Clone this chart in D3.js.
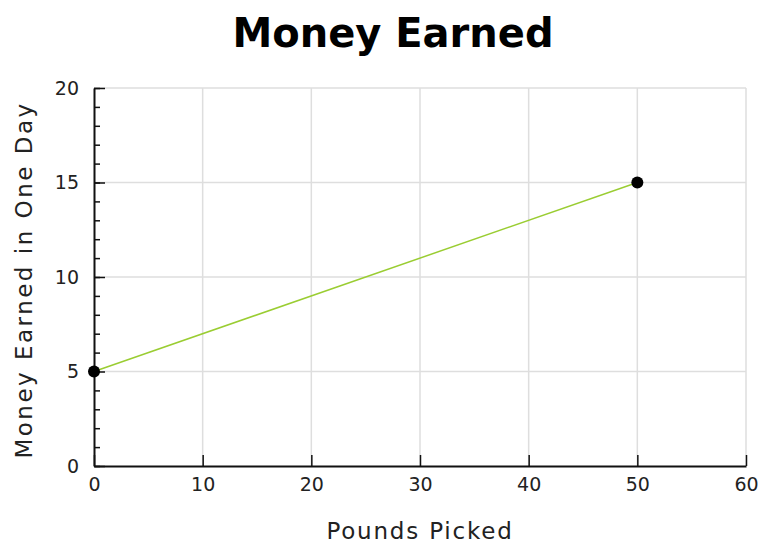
<!DOCTYPE html>
<html>
<head>
<meta charset="utf-8">
<script src="https://cdn.jsdelivr.net/npm/d3@7"></script>
<style>
  body { margin: 0; background: #fff; }
  text { font-family: "DejaVu Sans", Verdana, sans-serif; fill: #222; }
</style>
</head>
<body>
<svg id="chart" width="760" height="544"></svg>
<script>
// data
const poundsPicked = [0, 50];
const moneyEarned = [5, 15];
const xTicks = [0, 10, 20, 30, 40, 50, 60];
const yTicks = [0, 5, 10, 15, 20];
const yMinorTicks = d3.range(0, 21, 1);

const margin = { top: 88, right: 14, bottom: 78, left: 94 };
const width = 760 - margin.left - margin.right;
const height = 544 - margin.top - margin.bottom;

const svg = d3.select("#chart");
const g = svg.append("g")
  .attr("transform", "translate(" + margin.left + "," + margin.top + ")");

const x = d3.scaleLinear().domain([0, 60]).range([0, width]);
const y = d3.scaleLinear().domain([0, 20]).range([height, 0]);

// grid
g.append("g").selectAll("line")
  .data(xTicks.filter(d => d > 0))
  .enter().append("line")
  .attr("x1", d => x(d)).attr("x2", d => x(d))
  .attr("y1", 0).attr("y2", height)
  .attr("stroke", "#dedede").attr("stroke-width", 1.5);

g.append("g").selectAll("line")
  .data(yTicks.filter(d => d > 0))
  .enter().append("line")
  .attr("x1", 0).attr("x2", width)
  .attr("y1", d => y(d)).attr("y2", d => y(d))
  .attr("stroke", "#dedede").attr("stroke-width", 1.5);

// y axis: minor ticks, then major ticks with labels
const yMinor = g.append("g")
  .call(d3.axisRight(y).tickValues(yMinorTicks).tickSize(6).tickFormat(""));
yMinor.select(".domain").remove();
yMinor.selectAll("line").attr("stroke", "#111").attr("stroke-width", 1.5);

const yAxis = g.append("g")
  .call(d3.axisRight(y).tickValues(yTicks).tickSize(11).tickSizeOuter(0));
yAxis.select(".domain").attr("stroke", "#111").attr("stroke-width", 2);
yAxis.selectAll("line").attr("stroke", "#111").attr("stroke-width", 1.5);
yAxis.selectAll("text")
  .attr("x", -15)
  .attr("text-anchor", "end")
  .style("font-size", "19px")
  .style("font-family", "DejaVu Sans, Verdana, sans-serif")
  .attr("fill", "#222");

// x axis
const xAxis = g.append("g")
  .attr("transform", "translate(0," + height + ")")
  .call(d3.axisTop(x).tickValues(xTicks).tickSize(11).tickSizeOuter(0));
xAxis.select(".domain").attr("stroke", "#111").attr("stroke-width", 2);
xAxis.selectAll("line").attr("stroke", "#111").attr("stroke-width", 1.5);
xAxis.selectAll("text")
  .attr("y", 12)
  .attr("dy", "0.71em")
  .style("font-size", "19px")
  .style("font-family", "DejaVu Sans, Verdana, sans-serif")
  .attr("fill", "#222");

// line and points
const pts = poundsPicked.map((p, i) => ({ p: p, m: moneyEarned[i] }));
g.append("path")
  .datum(pts)
  .attr("fill", "none")
  .attr("stroke", "#9acd32")
  .attr("stroke-width", 1.5)
  .attr("d", d3.line().x(d => x(d.p)).y(d => y(d.m)));

g.selectAll("circle")
  .data(pts)
  .enter().append("circle")
  .attr("cx", d => x(d.p))
  .attr("cy", d => y(d.m))
  .attr("r", 6)
  .attr("fill", "#000");

// titles
svg.append("text")
  .attr("x", 393).attr("y", 47)
  .attr("text-anchor", "middle")
  .style("font-size", "40px").style("font-weight", "bold")
  .style("fill", "#000")
  .text("Money Earned");

svg.append("text")
  .attr("x", 420).attr("y", 539)
  .attr("text-anchor", "middle")
  .style("font-size", "23px")
  .style("letter-spacing", "1.8px")
  .text("Pounds Picked");

svg.append("text")
  .attr("transform", "translate(32,280) rotate(-90)")
  .attr("text-anchor", "middle")
  .style("font-size", "23px")
  .style("letter-spacing", "2.5px")
  .text("Money Earned in One Day");
</script>
</body>
</html>
